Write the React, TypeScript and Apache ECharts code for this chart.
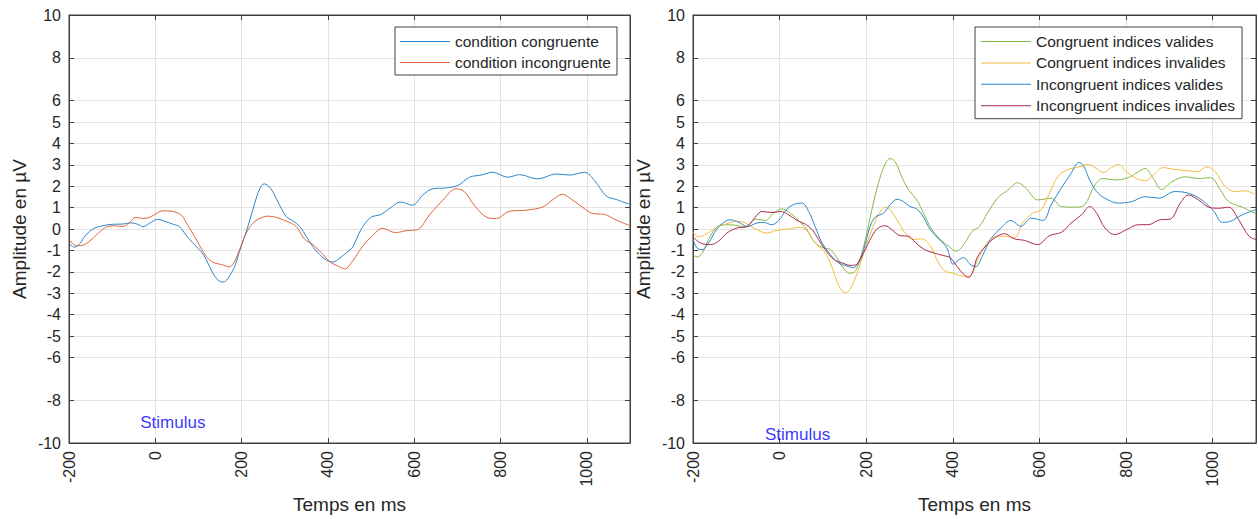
import React, { useEffect, useRef } from "react";
import * as echarts from "echarts";

const X_TICKS = [-200, 0, 200, 400, 600, 800, 1000];
const Y_TICKS = [-10, -8, -6, -5, -4, -3, -2, -1, 0, 1, 2, 3, 4, 5, 6, 8, 10];

const LEFT_NAMES = ["condition congruente", "condition incongruente"];
const RIGHT_NAMES = [
  "Congruent indices valides",
  "Congruent indices invalides",
  "Incongruent indices valides",
  "Incongruent indices invalides",
];

const congruent: [number, number][] = [
  [-200, -0.66], [-188, -0.85], [-177, -0.74], [-161, -0.28], [-142, 0.03], [-122, 0.15], [-99, 0.22],
  [-76, 0.23], [-57, 0.29], [-41, 0.22], [-28, 0.11], [-14, 0.26], [5, 0.45], [25, 0.34], [40, 0.23],
  [56, 0.11], [71, -0.28], [87, -0.66], [106, -1.05], [118, -1.43], [133, -2.05], [145, -2.38],
  [157, -2.48], [168, -2.32], [184, -1.74], [195, -1.05], [207, -0.35], [219, 0.42], [230, 1.18],
  [242, 1.88], [252, 2.11], [261, 2.03], [273, 1.72], [288, 1.11], [304, 0.57], [319, 0.38],
  [335, 0.11], [350, -0.35], [366, -0.85], [381, -1.2], [397, -1.46], [412, -1.54], [428, -1.35],
  [443, -1.1], [457, -0.85], [476, -0.05], [499, 0.54], [523, 0.68], [542, 0.95], [569, 1.26],
  [596, 1.11], [619, 1.57], [643, 1.88], [674, 1.92], [701, 2.03], [728, 2.42], [755, 2.52],
  [782, 2.65], [817, 2.42], [844, 2.54], [886, 2.34], [929, 2.57], [960, 2.52], [995, 2.65],
  [1018, 2.26], [1045, 1.54], [1068, 1.38], [1100, 1.15],
];

const incongruent: [number, number][] = [
  [-200, -0.48], [-188, -0.74], [-173, -0.78], [-153, -0.58], [-134, -0.23], [-115, 0.08], [-95, 0.15],
  [-76, 0.12], [-60, 0.29], [-45, 0.54], [-29, 0.49], [-14, 0.54], [2, 0.72], [17, 0.85], [40, 0.82],
  [60, 0.65], [75, 0.18], [91, -0.35], [106, -0.89], [118, -1.28], [133, -1.55], [153, -1.66],
  [172, -1.77], [184, -1.5], [195, -0.97], [207, -0.35], [222, 0.18], [238, 0.45], [261, 0.6],
  [281, 0.54], [312, 0.29], [327, 0.11], [346, -0.48], [366, -0.74], [389, -1.2], [405, -1.54],
  [424, -1.74], [439, -1.86], [457, -1.5], [480, -0.82], [503, -0.32], [526, 0.03], [557, -0.17],
  [581, -0.08], [608, -0.02], [635, 0.65], [666, 1.34], [697, 1.88], [716, 1.75], [739, 1.11],
  [766, 0.57], [790, 0.49], [821, 0.83], [859, 0.88], [898, 1.03], [921, 1.37], [943, 1.62],
  [968, 1.34], [991, 1.0], [1014, 0.72], [1041, 0.68], [1068, 0.42], [1100, 0.15],
];

const congValides: [number, number][] = [
  [-200, -1.19], [-191, -1.31], [-179, -1.14], [-164, -0.49], [-145, 0.09], [-125, 0.2], [-102, 0.17],
  [-79, 0.09], [-56, 0.46], [-33, 0.4], [-14, 0.74], [5, 0.94], [25, 0.74], [48, 0.31], [63, -0.03],
  [82, -0.65], [102, -0.88], [117, -0.96], [132, -1.34], [148, -1.85], [163, -2.07], [175, -1.96],
  [186, -1.42], [198, -0.49], [213, 0.9], [228, 2.13], [244, 3.06], [255, 3.29], [267, 3.14],
  [282, 2.44], [298, 1.82], [317, 1.36], [332, 0.74], [352, -0.03], [371, -0.49], [390, -0.8],
  [408, -1.04], [425, -0.73], [445, -0.1], [461, 0.12], [480, 0.74], [503, 1.44], [527, 1.82],
  [550, 2.16], [569, 1.9], [596, 1.36], [627, 1.44], [650, 1.05], [681, 1.02], [704, 1.13],
  [728, 2.06], [747, 2.36], [774, 2.29], [805, 2.4], [828, 2.67], [844, 2.83], [863, 2.36],
  [882, 1.85], [906, 2.21], [937, 2.44], [967, 2.36], [995, 2.4], [1018, 1.82], [1037, 1.28],
  [1068, 1.02], [1100, 0.71],
];

const congInvalides: [number, number][] = [
  [-200, -0.15], [-187, -0.37], [-168, -0.22], [-145, 0.09], [-122, 0.25], [-98, 0.36], [-79, 0.28],
  [-56, 0], [-29, -0.19], [-6, -0.06], [21, 0], [48, 0.08], [63, -0.08], [82, -0.65], [102, -1.04],
  [117, -1.58], [132, -2.43], [144, -2.89], [154, -2.97], [167, -2.66], [182, -1.89], [198, -0.88],
  [213, -0.03], [228, 0.66], [244, 1.02], [255, 0.9], [271, 0.43], [290, -0.19], [309, -0.49],
  [328, -0.46], [348, -0.8], [367, -1.58], [382, -1.96], [401, -2.07], [421, -2.19], [438, -2.2],
  [456, -1.5], [476, -0.73], [496, -0.37], [519, -0.34], [542, -0.42], [561, 0.28], [584, 0.74],
  [604, 0.9], [623, 1.67], [642, 2.44], [662, 2.75], [685, 2.87], [712, 3.01], [732, 2.83],
  [747, 2.63], [766, 2.87], [782, 3.01], [801, 2.67], [824, 2.36], [844, 2.26], [863, 2.52],
  [886, 2.87], [913, 2.78], [944, 2.72], [964, 2.67], [987, 2.91], [1006, 2.67], [1029, 1.98],
  [1053, 1.75], [1076, 1.78], [1100, 1.59],
];

const incongValides: [number, number][] = [
  [-200, -0.49], [-191, -0.88], [-179, -0.96], [-164, -0.65], [-145, 0], [-129, 0.31], [-114, 0.43],
  [-95, 0.32], [-75, 0.12], [-52, 0.28], [-37, 0.31], [-18, 0.2], [-2, 0.4], [17, 0.93], [36, 1.17],
  [52, 1.21], [67, 0.82], [82, 0.12], [98, -0.65], [117, -1.19], [136, -1.58], [155, -1.73],
  [171, -1.81], [182, -1.55], [194, -0.96], [209, 0.12], [221, 0.56], [240, 0.74], [255, 1.13],
  [271, 1.39], [286, 1.28], [301, 1.05], [317, 0.93], [332, 0.56], [348, -0.03], [367, -0.46],
  [386, -0.88], [401, -1.65], [413, -1.45], [425, -1.34], [440, -1.65], [453, -1.76], [468, -1.27],
  [487, -0.49], [511, 0.05], [534, 0.4], [557, 0.12], [581, 0.51], [608, 0.4], [627, 1.13],
  [650, 1.9], [673, 2.6], [691, 3.11], [701, 2.98], [716, 2.29], [732, 1.75], [751, 1.44],
  [782, 1.21], [813, 1.28], [844, 1.51], [875, 1.44], [913, 1.75], [944, 1.67], [975, 1.36],
  [1003, 0.82], [1022, 0.31], [1041, 0.36], [1068, 0.66], [1100, 0.9],
];

const incongInvalides: [number, number][] = [
  [-200, -0.37], [-183, -0.65], [-160, -0.73], [-141, -0.57], [-122, -0.19], [-98, 0.05], [-75, 0.12],
  [-56, 0.56], [-41, 0.82], [-18, 0.77], [2, 0.82], [21, 0.66], [40, 0.4], [59, 0.23], [75, -0.03],
  [90, -0.49], [105, -0.96], [125, -1.42], [144, -1.58], [163, -1.7], [178, -1.65], [194, -1.11],
  [213, -0.34], [228, 0.05], [244, 0.15], [259, -0.03], [278, -0.31], [298, -0.34], [313, -0.62],
  [332, -0.93], [355, -1.11], [378, -1.24], [394, -1.34], [409, -1.73], [425, -2.12], [436, -2.27],
  [446, -2.0], [456, -1.34], [476, -0.8], [496, -0.42], [519, -0.22], [542, -0.46], [565, -0.53],
  [596, -0.73], [623, -0.31], [651, -0.15], [673, 0.28], [697, 0.66], [716, 1.05], [732, 0.74],
  [751, 0.05], [774, -0.26], [801, -0.03], [828, 0.2], [851, 0.2], [878, 0.43], [902, 0.46],
  [925, 1.21], [944, 1.59], [967, 1.36], [991, 1.02], [1014, 0.97], [1037, 1.02], [1060, 0.43],
  [1084, -0.34], [1100, -0.49],
];

const stimulusLeft: [number, number][] = [[-36, -9.05]];
const stimulusRight: [number, number][] = [[-35, -9.6]];

const FONT = "'Liberation Sans', Arial, Helvetica, sans-serif";
const TXT = "#262626";
const AXC = "#404040";
const GRIDC = "#e3e3e3";

const C_BLUE = "#2a86cc";
const C_ORANGE = "#e0653a";
const C_GREEN = "#84b846";
const C_YELLOW = "#f0bd3e";
const C_RED = "#ad2a4a";

const fmt = (v: number) => String(v);

function xAxes(gridIndex: number) {
  return [
    {
      type: "value",
      gridIndex,
      position: "bottom",
      min: -200,
      max: 1100,
      name: "Temps en ms",
      nameLocation: "middle",
      nameGap: 52,
      nameTextStyle: { fontFamily: FONT, fontSize: 19, color: TXT },
      axisLine: { show: true, onZero: false, lineStyle: { color: AXC, width: 1 } },
      axisTick: { show: true, inside: true, length: 5, customValues: X_TICKS, lineStyle: { color: AXC } },
      axisLabel: { customValues: X_TICKS, formatter: fmt, rotate: 90, margin: 8, color: TXT, fontSize: 16, fontFamily: FONT },
      splitLine: { show: true, lineStyle: { color: GRIDC, width: 1 } },
    },
    {
      type: "value",
      gridIndex,
      position: "top",
      min: -200,
      max: 1100,
      axisLine: { show: true, onZero: false, lineStyle: { color: AXC, width: 1 } },
      axisTick: { show: true, inside: true, length: 5, customValues: X_TICKS, lineStyle: { color: AXC } },
      axisLabel: { show: false },
      splitLine: { show: false },
    },
  ];
}

function yAxes(gridIndex: number) {
  return [
    {
      type: "value",
      gridIndex,
      position: "left",
      min: -10,
      max: 10,
      name: "Amplitude en µV",
      nameLocation: "middle",
      nameRotate: 90,
      nameGap: 40,
      nameTextStyle: { fontFamily: FONT, fontSize: 19, color: TXT },
      axisLine: { show: true, onZero: false, lineStyle: { color: AXC, width: 1 } },
      axisTick: { show: true, inside: true, length: 5, customValues: Y_TICKS, lineStyle: { color: AXC } },
      axisLabel: { customValues: Y_TICKS, formatter: fmt, margin: 8, color: TXT, fontSize: 16, fontFamily: FONT },
      splitLine: { show: true, lineStyle: { color: GRIDC, width: 1 } },
    },
    {
      type: "value",
      gridIndex,
      position: "right",
      min: -10,
      max: 10,
      axisLine: { show: true, onZero: false, lineStyle: { color: AXC, width: 1 } },
      axisTick: { show: true, inside: true, length: 5, customValues: Y_TICKS, lineStyle: { color: AXC } },
      axisLabel: { show: false },
      splitLine: { show: false },
    },
  ];
}

function lineSeries(name: string, data: [number, number][], color: string, axisIndex: number) {
  return {
    type: "line",
    name,
    data,
    xAxisIndex: axisIndex,
    yAxisIndex: axisIndex,
    symbol: "none",
    smooth: 0.35,
    color,
    itemStyle: { color },
    lineStyle: { color, width: 1 },
    z: 3,
  };
}

function stimulusSeries(data: [number, number][], axisIndex: number) {
  return {
    type: "scatter",
    name: "Stimulus",
    data,
    xAxisIndex: axisIndex,
    yAxisIndex: axisIndex,
    symbolSize: 1,
    itemStyle: { color: "rgba(0,0,0,0)" },
    label: {
      show: true,
      position: "right",
      distance: 0,
      formatter: "Stimulus",
      color: "#0000ff",
      fontSize: 17,
      fontFamily: FONT,
    },
    z: 4,
  };
}

const legendBase = {
  orient: "vertical",
  backgroundColor: "#ffffff",
  borderColor: AXC,
  borderWidth: 1,
  icon: "rect",
  itemWidth: 50,
  itemHeight: 1,
  selectedMode: false,
  textStyle: { fontFamily: FONT, fontSize: 15.5, color: TXT },
};

export default function App() {
  const ref = useRef<HTMLDivElement>(null);
  useEffect(() => {
    if (!ref.current) return;
    const chart = echarts.init(ref.current, null, { renderer: "svg" });
    chart.setOption({
      animation: false,
      backgroundColor: "#ffffff",
      grid: [
        { left: 69, top: 15, width: 561, height: 428, show: true, borderColor: AXC, borderWidth: 1, containLabel: false },
        { left: 693, top: 15, width: 563, height: 429, show: true, borderColor: AXC, borderWidth: 1, containLabel: false },
      ],
      xAxis: [...xAxes(0), ...xAxes(1)],
      yAxis: [...yAxes(0), ...yAxes(1)],
      legend: [
        { ...legendBase, data: LEFT_NAMES, left: 395, top: 27, padding: [6.5, 6, 4.5, 5], itemGap: 5 },
        { ...legendBase, data: RIGHT_NAMES, left: 975, top: 27, padding: [6.5, 7, 5, 6], itemGap: 5.4 },
      ],
      series: [
        lineSeries(LEFT_NAMES[0], congruent, C_BLUE, 0),
        lineSeries(LEFT_NAMES[1], incongruent, C_ORANGE, 0),
        stimulusSeries(stimulusLeft, 0),
        lineSeries(RIGHT_NAMES[0], congValides, C_GREEN, 2),
        lineSeries(RIGHT_NAMES[1], congInvalides, C_YELLOW, 2),
        lineSeries(RIGHT_NAMES[2], incongValides, C_BLUE, 2),
        lineSeries(RIGHT_NAMES[3], incongInvalides, C_RED, 2),
        stimulusSeries(stimulusRight, 2),
      ],
    });
    return () => chart.dispose();
  }, []);
  return (
    <div
      ref={ref}
      style={{ position: "absolute", left: 0, top: 0, width: 1258, height: 519 }}
    />
  );
}
